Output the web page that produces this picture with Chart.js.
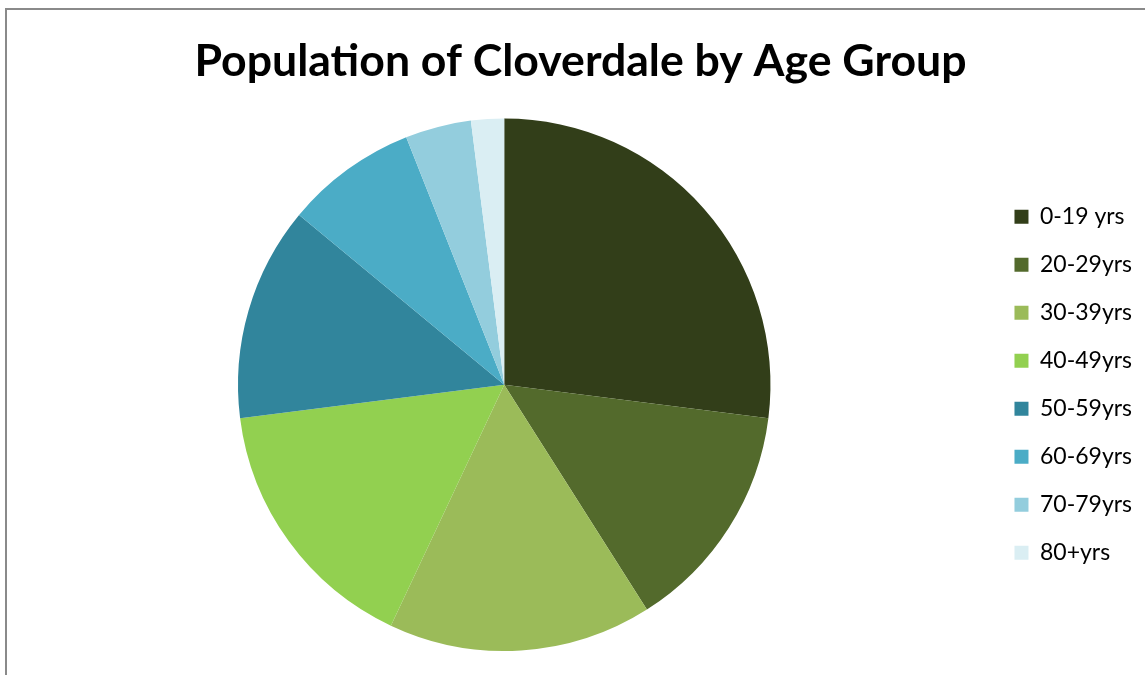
<!DOCTYPE html>
<html>
<head>
<meta charset="utf-8">
<script src="https://cdn.jsdelivr.net/npm/chart.js@4.4.1/dist/chart.umd.min.js"></script>
<style>
  html, body { margin: 0; padding: 0; background: #fff; overflow: hidden; }
  body { width: 1145px; height: 675px; position: relative; }
  .frame {
    position: absolute; left: 5px; top: 8px; width: 1200px; height: 700px;
    border-left: 2px solid #8a8a8a; border-top: 2px solid #8a8a8a;
  }
  #chart { position: absolute; left: 6px; top: 0; }
</style>
</head>
<body>
<div class="frame"></div>
<canvas id="chart" width="1152" height="675"></canvas>
<script>
// age groups and share of population (%)
const ageGroups = ["0-19 yrs", "20-29yrs", "30-39yrs", "40-49yrs", "50-59yrs", "60-69yrs", "70-79yrs", "80+yrs"];
const shares = [27, 14, 16, 16, 13, 8, 4, 2];
const sliceColors = ["#323e19", "#536a2c", "#9bbb59", "#92d050", "#31859c", "#4bacc6", "#93cddd", "#daeef3"];

// put the legend in the middle of the pie's height
const centerLegend = {
  id: "centerLegend",
  afterLayout(chart) {
    const legend = chart.legend;
    const area = chart.chartArea;
    if (!legend) return;
    const d = (area.top + area.bottom) / 2 - (legend.top + legend.bottom) / 2;
    legend.top += d;
    legend.bottom += d;
  },
};

const ctx = document.getElementById("chart").getContext("2d");

new Chart(ctx, {
  type: "pie",
  data: {
    labels: ageGroups,
    datasets: [
      {
        data: shares,
        backgroundColor: sliceColors,
        borderWidth: 0,
      },
    ],
  },
  options: {
    responsive: false,
    animation: false,
    devicePixelRatio: 1,
    layout: {
      padding: { left: 13, right: 16, top: 0, bottom: 24 },
    },
    plugins: {
      title: {
        display: true,
        text: "Population of Cloverdale by Age Group",
        color: "#000",
        font: { family: "Lato", size: 44.6, weight: "bold", lineHeight: 1.2 },
        padding: { top: 35, bottom: 30 },
      },
      legend: {
        position: "right",
        labels: {
          boxWidth: 14,
          boxHeight: 14,
          padding: 25,
          color: "#000",
          font: { family: "Lato", size: 23 },
        },
      },
      tooltip: { enabled: false },
    },
  },
  plugins: [centerLegend],
});
</script>
</body>
</html>
